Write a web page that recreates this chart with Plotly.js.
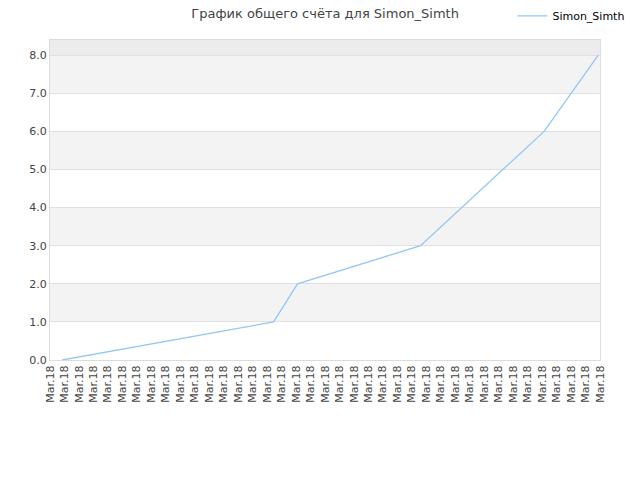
<!DOCTYPE html>
<html>
<head>
<meta charset="utf-8">
<script src="https://cdn.plot.ly/plotly-3.0.1.min.js"></script>
<style>body{margin:0;background:#fff}#grafico{width:640px;height:480px}</style>
</head>
<body>
<div id="grafico"></div>
<script>
// подписи оси X (39 штук, все одинаковые)
const tickLabels = Array(39).fill('Mar.18');
const tickPos = tickLabels.map((_, i) => i);

// точки линии (x - в долях шага подписей)
const pointX = [0.85, 15.45, 17.1, 25.6, 34.14, 37.88];
const score = [0, 1, 2, 3, 6, 8];

const yTicks = [0, 1, 2, 3, 4, 5, 6, 7, 8];

plot();
function plot() {
	const trace = {
		x: pointX,
		y: score,
		mode: 'lines',
		name: 'Simon_Simth',
		line: {color: '#94c6f4', width: 1.3}
	};

	//полосы фона
	const shapes = [];
	for (let v = 1; v < 8; v += 2) {
		shapes.push({type: 'rect', xref: 'paper', yref: 'y', x0: 0, x1: 1, y0: v, y1: v + 1,
			fillcolor: '#f3f3f3', line: {width: 0}, layer: 'below'});
	}
	shapes.push({type: 'rect', xref: 'paper', yref: 'y', x0: 0, x1: 1, y0: 8, y1: 8.4,
		fillcolor: '#ececec', line: {width: 0}, layer: 'below'});

	const layout = {
		width: 640, height: 480,
		margin: {l: 50, r: 40, t: 40, b: 120, autoexpand: false},
		paper_bgcolor: '#fff', plot_bgcolor: '#fff',
		font: {family: 'DejaVu Sans', size: 11, color: '#444'},
		title: {text: 'График общего счёта для Simon_Simth', font: {size: 13, color: '#444'},
			x: 0.508, xanchor: 'center', y: 0.973, yanchor: 'middle'},
		showlegend: true,
		legend: {xref: 'container', yref: 'container', x: 0.985, y: 0.967, xanchor: 'right', yanchor: 'middle',
			font: {color: '#000', size: 11}, bgcolor: 'rgba(0,0,0,0)', itemwidth: 30},
		xaxis: {range: [0, 38], tickvals: tickPos, ticktext: tickLabels, tickangle: -90,
			showgrid: false, zeroline: false, showline: true, linecolor: '#dcdcdc', mirror: true,
			ticks: '', fixedrange: true},
		yaxis: {range: [0, 8.4], tickvals: yTicks, ticktext: yTicks.map(v => v.toFixed(1)),
			showgrid: true, gridcolor: '#e0e0e0', zeroline: false, showline: true, linecolor: '#dcdcdc',
			mirror: true, ticks: '', fixedrange: true},
		shapes: shapes
	};

	Plotly.newPlot('grafico', [trace], layout, {displayModeBar: false, staticPlot: true});
}
</script>
</body>
</html>
